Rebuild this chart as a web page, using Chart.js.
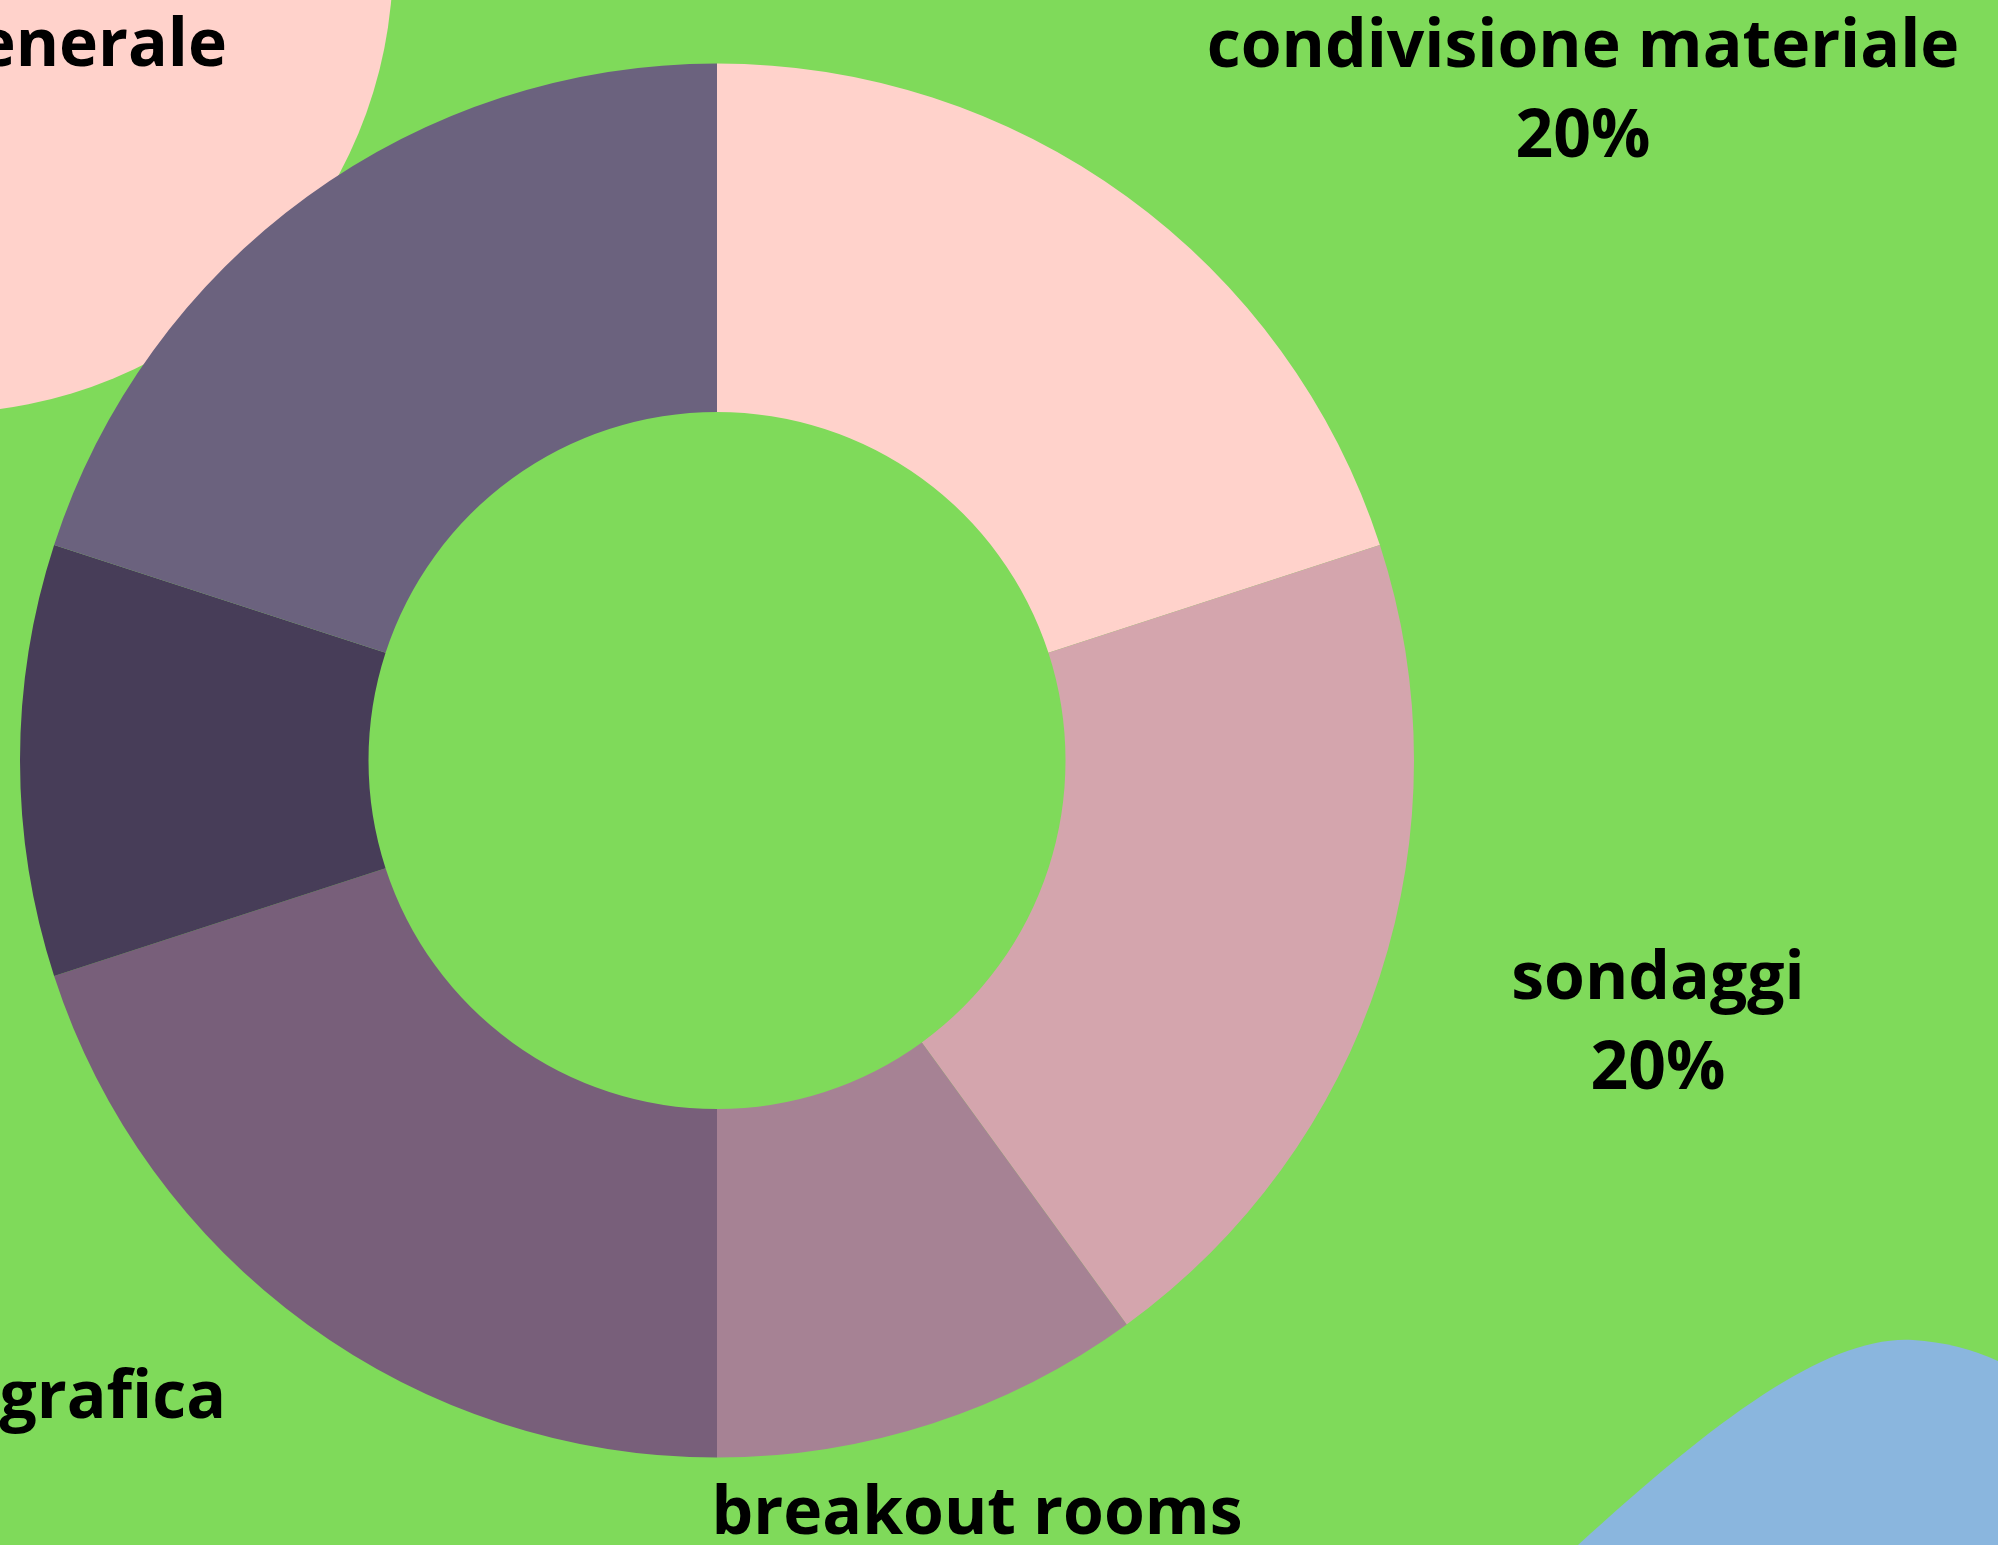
<!DOCTYPE html>
<html>
<head>
<meta charset="utf-8">
<script src="https://cdn.jsdelivr.net/npm/chart.js@4"></script>
<style>
  html, body { margin: 0; padding: 0; background: #7fda5a; overflow: hidden; }
  canvas { display: block; }
</style>
</head>
<body>
<canvas id="grafico" width="1998" height="1545"></canvas>
<script>
// dati
const categorie = ["condivisione materiale", "sondaggi", "breakout rooms", "presentazione grafica", "chat privata", "discussione generale"];
const percentuali = [20, 20, 10, 20, 10, 20];
const colori = ["#ffd2cb", "#d4a5ad", "#a68294", "#785f7a", "#473d58", "#6b627e"];

// dove stanno le etichette (x = centro, oppure bordo destro se align "right"; y = baseline prima riga)
const posEtichette = [
  { x: 1583, y: 67 },
  { x: 1658, y: 999 },
  { x: 977, y: 1534 },
  { x: 226, y: 1418, align: "right" },
  { x: -400, y: 760 },
  { x: 227, y: 66, align: "right" }
];

const sfondo = {
  id: "sfondo",
  beforeDraw(chart) {
    const c = chart.ctx;
    c.save();
    c.fillStyle = "#7fda5a";
    c.fillRect(0, 0, chart.width, chart.height);

    // cerchio rosa in alto a sinistra
    c.fillStyle = "#ffd2cb";
    c.beginPath();
    c.arc(-60, -40, 453, 0, Math.PI * 2);
    c.fill();

    // macchia azzurra in basso a destra
    c.fillStyle = "#8ab6de";
    c.beginPath();
    c.moveTo(1578, 1545);
    c.bezierCurveTo(1720, 1415, 1830, 1335, 1913, 1340);
    c.quadraticCurveTo(1960, 1343, 2000, 1362);
    c.lineTo(2000, 1545);
    c.closePath();
    c.fill();
    c.restore();
  }
};

const etichette = {
  id: "etichette",
  afterDraw(chart) {
    const c = chart.ctx;
    c.save();
    c.fillStyle = "#000";
    c.font = "bold 66px 'Open Sans'";
    c.textBaseline = "alphabetic";
    c.textAlign = "center";
    categorie.forEach((nome, i) => {
      const p = posEtichette[i];
      let cx = p.x;
      if (p.align === "right") cx = p.x - c.measureText(nome).width / 2;
      c.fillText(nome, cx, p.y);
      c.fillText(percentuali[i] + "%", cx, p.y + 90);
    });
    c.restore();
  }
};

const ctx = document.getElementById("grafico").getContext("2d");

new Chart(ctx, {
  type: "doughnut",
  data: {
    labels: categorie,
    datasets: [{
      data: percentuali,
      backgroundColor: colori,
      borderWidth: 0
    }]
  },
  options: {
    responsive: false,
    animation: false,
    devicePixelRatio: 1,
    cutout: "50%",
    layout: { padding: { left: 20, right: 584, top: 63, bottom: 87 } },
    plugins: {
      legend: { display: false },
      tooltip: { enabled: false }
    }
  },
  plugins: [sfondo, etichette]
});
</script>
</body>
</html>
